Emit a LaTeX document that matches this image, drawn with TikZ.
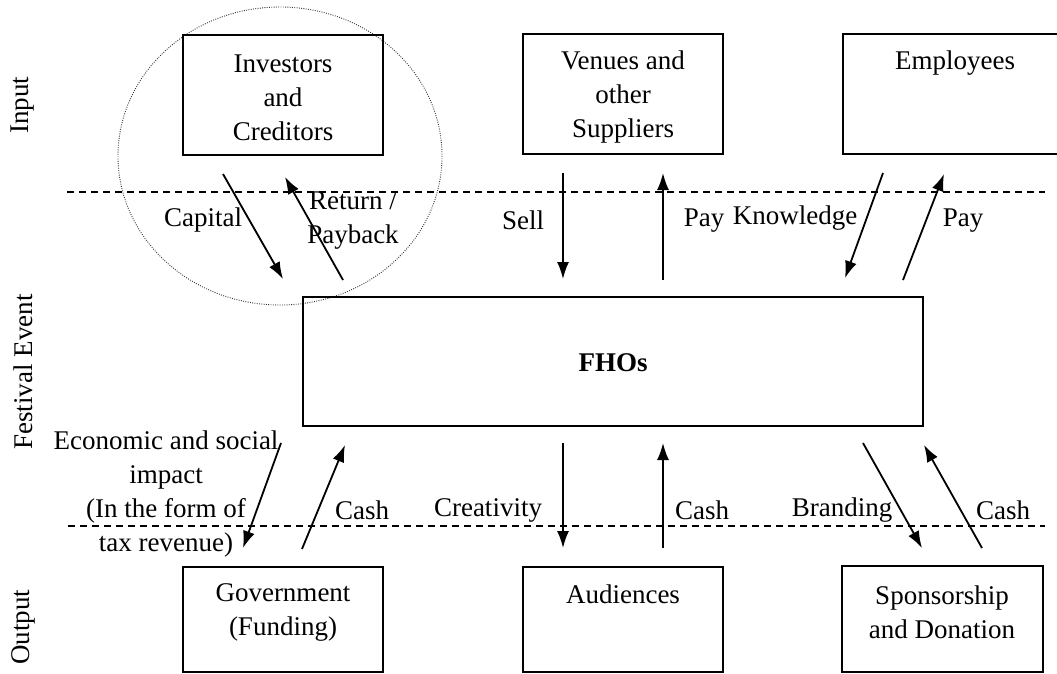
\documentclass[tikz,border=0pt]{standalone}
\usepackage{fontspec}
\setmainfont{Liberation Serif}
\usetikzlibrary{arrows.meta}
\tikzset{
  box/.style={draw, line width=1.4pt, inner sep=0pt, minimum width=200pt, minimum height=120pt},
  txt/.style={inner sep=0pt, align=center, font=\fontsize{27}{34}\selectfont},
  arr/.style={line width=1.8pt, -{Latex[length=17pt,width=12pt]}},
  sep/.style={line width=1.1pt, dash pattern=on 7pt off 5pt},
  ring/.style={line width=0.9pt, dash pattern=on 0.9pt off 1.4pt, black!80}
}
\begin{document}
\begin{tikzpicture}[x=1pt,y=-1pt]
\clip (0,0) rectangle (1057,673);
\fill[white] (0,0) rectangle (1057,673);

% separators
\coordinate (s1a) at (67,192); \coordinate (s1b) at (1045,192);
\coordinate (s2a) at (68,526); \coordinate (s2b) at (1045,526);
\draw[sep] (s1a) -- (s1b);
\draw[sep] (s2a) -- (s2b);

% dotted circle
\draw[ring] (280,156) ellipse [x radius=162, y radius=149];

% boxes
\node[box] (inv) at (283,95) {};
\node[box] (ven) at (623,94) {};
\node[box, minimum width=224pt] (emp) at (955,94) {};
\node[box, minimum width=620pt, minimum height=129pt] (fho) at (613,361.5) {};
\node[box, minimum height=105pt] (gov) at (283,619.5) {};
\node[box, minimum height=105pt] (aud) at (623,619.5) {};
\node[box, minimum width=201pt, minimum height=106pt] (spo) at (942.5,619) {};

% box texts
\node[txt] (invt) at (283,98) {Investors\\and\\Creditors};
\node[txt] (vent) at (623,97) {Venues and\\other\\Suppliers};
\node[txt] (empt) at (955,63) {Employees};
\node[txt, font=\fontsize{27}{34}\selectfont\bfseries] (fhot) at (613,363) {FHOs};
\node[txt] (govt) at (283,612) {Government\\(Funding)};
\node[txt] (audt) at (623,594) {Audiences};
\node[txt] (spot) at (942,612) {Sponsorship\\and Donation};

% side labels
\node[txt, rotate=90] (lin) at (23,105) {Input};
\node[txt, rotate=90] (lfe) at (23,372) {Festival Event};
\node[txt, rotate=90] (lout) at (23,627) {Output};

% arrow end points
\coordinate (capA) at (223,174);  \coordinate (capB) at (283,279);
\coordinate (retA) at (343,280);  \coordinate (retB) at (285,177);
\coordinate (selA) at (563,173);  \coordinate (selB) at (563,279);
\coordinate (pvA) at (663,280);   \coordinate (pvB) at (663,173);
\coordinate (knA) at (883,173);   \coordinate (knB) at (845,278);
\coordinate (peA) at (903,280);   \coordinate (peB) at (944,174);
\coordinate (ecA) at (281,443);   \coordinate (ecB) at (243,548);
\coordinate (cgA) at (302,549);   \coordinate (cgB) at (345,445);
\coordinate (crA) at (563,443);   \coordinate (crB) at (563,548);
\coordinate (caA) at (663,548);   \coordinate (caB) at (663,443);
\coordinate (brA) at (863,443);   \coordinate (brB) at (922,548);
\coordinate (csA) at (982,548);   \coordinate (csB) at (924,445);

\draw[arr] (capA) -- (capB);
\draw[arr] (retA) -- (retB);
\draw[arr] (selA) -- (selB);
\draw[arr] (pvA) -- (pvB);
\draw[arr] (knA) -- (knB);
\draw[arr] (peA) -- (peB);
\draw[arr] (ecA) -- (ecB);
\draw[arr] (cgA) -- (cgB);
\draw[arr] (crA) -- (crB);
\draw[arr] (caA) -- (caB);
\draw[arr] (brA) -- (brB);
\draw[arr] (csA) -- (csB);

% arrow labels
\node[txt] (lcap) at (203,220) {Capital};
\node[txt] (lret) at (353,221) {Return /\\Payback};
\node[txt] (lsel) at (523,220) {Sell};
\node[txt] (lpv) at (704,221) {Pay};
\node[txt] (lkn) at (795,218) {Knowledge};
\node[txt] (lpe) at (963,221) {Pay};
\node[txt] (lec) at (166,494) {Economic and social\\impact\\(In the form of\\tax revenue)};
\node[txt] (lcg) at (362,510) {Cash};
\node[txt] (lcr) at (488,510) {Creativity};
\node[txt] (lca) at (702,510) {Cash};
\node[txt] (lbr) at (842,510) {Branding};
\node[txt] (lcs) at (1003,510) {Cash};
\end{tikzpicture}
\end{document}
